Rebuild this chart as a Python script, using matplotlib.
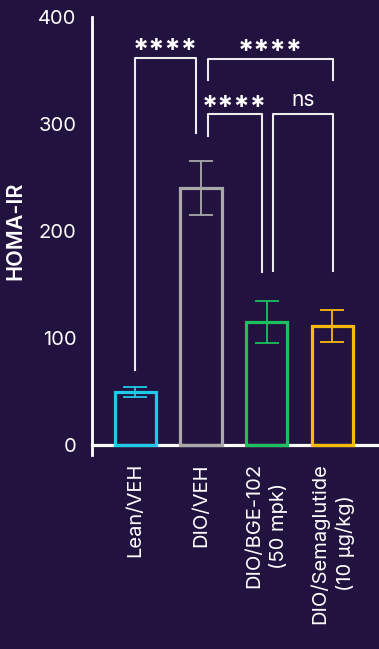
import matplotlib.pyplot as plt

# HOMA-IR per group (mean and SEM)
groups = ['Lean/VEH', 'DIO/VEH', 'DIO/BGE-102\n(50 mpk)', 'DIO/Semaglutide\n(10 µg/kg)']
means = [49.5, 240, 115, 111]
sems = [4.5, 25, 20, 15]
colors = ['#1ccbe6', '#a9a9a9', '#1dc15b', '#f7b90a']

# significance brackets: (left x, right x, top y, left leg bottom, right leg bottom, label)
brackets = [
    (0.0, 0.92, 362, 70, 292, '****'),
    (1.10, 3.02, 361, 341, 341, '****'),
    (1.10, 1.93, 309, 289, 162, '****'),
    (2.10, 3.02, 309, 163, 163, 'ns'),
]

bg = '#22123f'
plt.rcParams['font.family'] = ['Inter', 'DejaVu Sans']

fig = plt.figure(figsize=(3.79, 6.49), dpi=100, facecolor=bg)
ax = fig.add_axes([0.2427, 0.2989, 0.7573, 0.6749])
ax.set_facecolor(bg)

# spines first: set_position resets the ticks
ax.spines['left'].set_color('white')
ax.spines['left'].set_linewidth(2)
ax.spines['bottom'].set_position(('data', 0))
ax.spines['bottom'].set_color('white')
ax.spines['bottom'].set_linewidth(2.3)
ax.spines['top'].set_visible(False)
ax.spines['right'].set_visible(False)

x = list(range(len(groups)))
for i in x:
    ax.bar(i, means[i], width=0.626, facecolor='none', edgecolor=colors[i], linewidth=2.3, zorder=3)
    ax.errorbar(i, means[i], yerr=sems[i], color=colors[i], capsize=8.5, elinewidth=1.3,
                capthick=1.3, zorder=4)

for x1, x2, top, b1, b2, label in brackets:
    ax.plot([x1, x1, x2, x2], [b1, top, top, b2], color='#ececec', linewidth=1.5, zorder=5)
    if label == 'ns':
        ax.text((x1 + x2) / 2, top + 8, label, ha='center', va='baseline', color='white',
                fontsize=15)
    else:
        ax.text((x1 + x2) / 2, top - 7, label, ha='center', va='bottom', color='white',
                fontsize=21, fontweight='bold')

ax.set_xlim(-0.664, 3.717)
ax.set_ylim(-9.3, 400)
ax.spines['left'].set_bounds(-9.3, 400)
ax.set_yticks([0, 100, 200, 300, 400])
ax.tick_params(axis='y', length=0, pad=11, labelsize=14.5, colors='white')
ax.set_yticks([0], minor=True)
ax.tick_params(axis='y', which='minor', length=7.5, width=2, color='white')
ax.set_xticks(x)
ax.set_xticklabels(groups, rotation=90, fontsize=14.5, color='white', linespacing=1.4,
                   va='top', ha='center')
ax.tick_params(axis='x', length=0, pad=13)
ax.set_ylabel('HOMA-IR', color='white', fontsize=15.5, fontweight='semibold')
ax.yaxis.set_label_coords(-0.233, 0.511)

fig.savefig('out.png', dpi=100, facecolor=bg)
